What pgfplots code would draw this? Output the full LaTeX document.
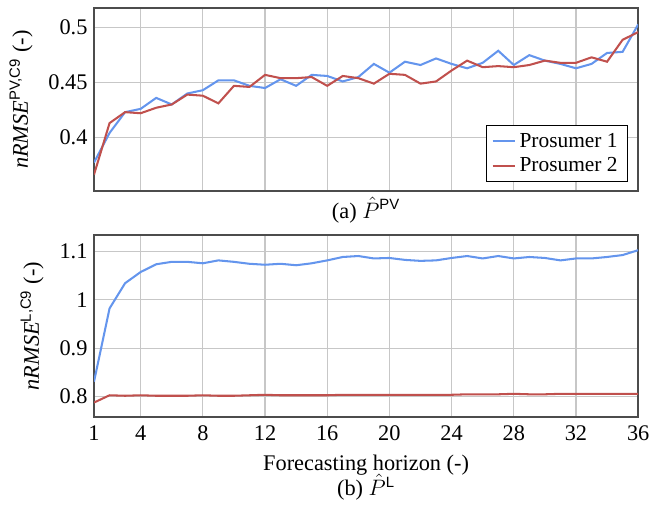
\documentclass[border=0pt]{standalone}
\usepackage{amsmath}
\usepackage{fontspec}
\setmainfont{Liberation Serif}
\setsansfont{Liberation Sans}
\usepackage{pgfplots}
\pgfplotsset{compat=1.18}

\definecolor{pblue}{RGB}{100,149,237}
\definecolor{pred}{RGB}{192,80,77}

\pgfplotsset{
  common/.style={
    scale only axis,
    width=292.5pt,
    xmin=1, xmax=36,
    xtick={1,4,8,12,16,20,24,28,32,36},
    grid=major,
    grid style={black!22, line width=0.6pt},
    axis line style={black!70, line width=0.8pt},
    major tick length=0pt,
    font=\fontsize{12}{14}\selectfont,
    tick label style={font=\fontsize{12}{14}\selectfont},
    /pgf/number format/assume math mode=true,
    /pgf/number format/fixed,
    every axis plot/.append style={line width=1.1pt},
    legend image code/.code={\draw[##1] (0cm,0cm) -- (0.42cm,0cm);},
  },
}

\begin{document}
\begin{tikzpicture}
\useasboundingbox (-50.53pt,-170.96pt) rectangle (299.4pt,102.7pt);

% (a) PV
\begin{axis}[
  common,
  at={(0,0)}, anchor=south west,
  height=98.4pt,
  ymin=0.351, ymax=0.518,
  ytick={0.4,0.45,0.5},
  xticklabels={},
  ylabel={\textit{nRMSE}\textsuperscript{\sffamily PV,C9}~(-)},
  ylabel style={at={(axis description cs:0,0.5)}, anchor=base, yshift=35.5pt},
  xlabel={(a) $\hat{P}^{\text{\sffamily PV}}$},
  xlabel style={at={(axis description cs:0.5,0)}, anchor=base, yshift=-14.5pt},
  legend style={at={(0.98,0.049)}, anchor=south east, draw=black, fill=white,
    font=\fontsize{11.5}{14.5}\selectfont, cells={anchor=west}},
]
\addplot[pblue] coordinates {
(1,0.377) (2,0.404) (3,0.423) (4,0.426) (5,0.436) (6,0.430) (7,0.440) (8,0.443) (9,0.452)
(10,0.452) (11,0.447) (12,0.445) (13,0.453) (14,0.447) (15,0.457) (16,0.456) (17,0.451) (18,0.455)
(19,0.467) (20,0.459) (21,0.469) (22,0.466) (23,0.472) (24,0.467) (25,0.463) (26,0.468) (27,0.479)
(28,0.466) (29,0.475) (30,0.470) (31,0.467) (32,0.463) (33,0.467) (34,0.477) (35,0.478) (36,0.503)};
\addplot[pred] coordinates {
(1,0.366) (2,0.413) (3,0.423) (4,0.422) (5,0.427) (6,0.430) (7,0.439) (8,0.438) (9,0.431)
(10,0.447) (11,0.446) (12,0.457) (13,0.454) (14,0.454) (15,0.455) (16,0.447) (17,0.456) (18,0.454)
(19,0.449) (20,0.458) (21,0.457) (22,0.449) (23,0.451) (24,0.461) (25,0.470) (26,0.464) (27,0.465)
(28,0.464) (29,0.466) (30,0.470) (31,0.468) (32,0.468) (33,0.473) (34,0.469) (35,0.489) (36,0.496)};
\legend{Prosumer 1, Prosumer 2}
\end{axis}

% (b) Load
\begin{axis}[
  common,
  at={(0,-121.5pt)}, anchor=south west,
  height=97.8pt,
  ymin=0.758, ymax=1.133,
  ytick={0.8,0.9,1,1.1},
  xticklabel style={anchor=base, yshift=-12.7pt},
  ylabel={\textit{nRMSE}\textsuperscript{\sffamily L,C9}~(-)},
  ylabel style={at={(axis description cs:0,0.5)}, anchor=base, yshift=29.6pt},
  xlabel={Forecasting horizon (-)},
  xlabel style={at={(axis description cs:0.5,0)}, anchor=base, yshift=-28.9pt},
  after end axis/.code={
    \node[anchor=base, font=\fontsize{12}{14}\selectfont]
      at ([yshift=-42.2pt]axis description cs:0.5,0) {(b) $\hat{P}^{\text{\sffamily L}}$};
  },
]
\addplot[pblue] coordinates {
(1,0.831) (2,0.982) (3,1.034) (4,1.057) (5,1.073) (6,1.078) (7,1.078) (8,1.075) (9,1.081)
(10,1.078) (11,1.074) (12,1.072) (13,1.074) (14,1.071) (15,1.075) (16,1.081) (17,1.088) (18,1.090)
(19,1.085) (20,1.086) (21,1.082) (22,1.080) (23,1.081) (24,1.086) (25,1.090) (26,1.085) (27,1.090)
(28,1.085) (29,1.088) (30,1.086) (31,1.081) (32,1.085) (33,1.085) (34,1.088) (35,1.092) (36,1.102)};
\addplot[pred] coordinates {
(1,0.788) (2,0.803) (3,0.802) (4,0.803) (5,0.802) (6,0.802) (7,0.802) (8,0.803) (9,0.802)
(10,0.802) (11,0.803) (12,0.804) (13,0.803) (14,0.803) (15,0.803) (16,0.803) (17,0.804) (18,0.804)
(19,0.804) (20,0.804) (21,0.804) (22,0.804) (23,0.804) (24,0.804) (25,0.805) (26,0.805) (27,0.805)
(28,0.806) (29,0.805) (30,0.805) (31,0.806) (32,0.806) (33,0.806) (34,0.806) (35,0.806) (36,0.806)};
\end{axis}
\end{tikzpicture}
\end{document}
